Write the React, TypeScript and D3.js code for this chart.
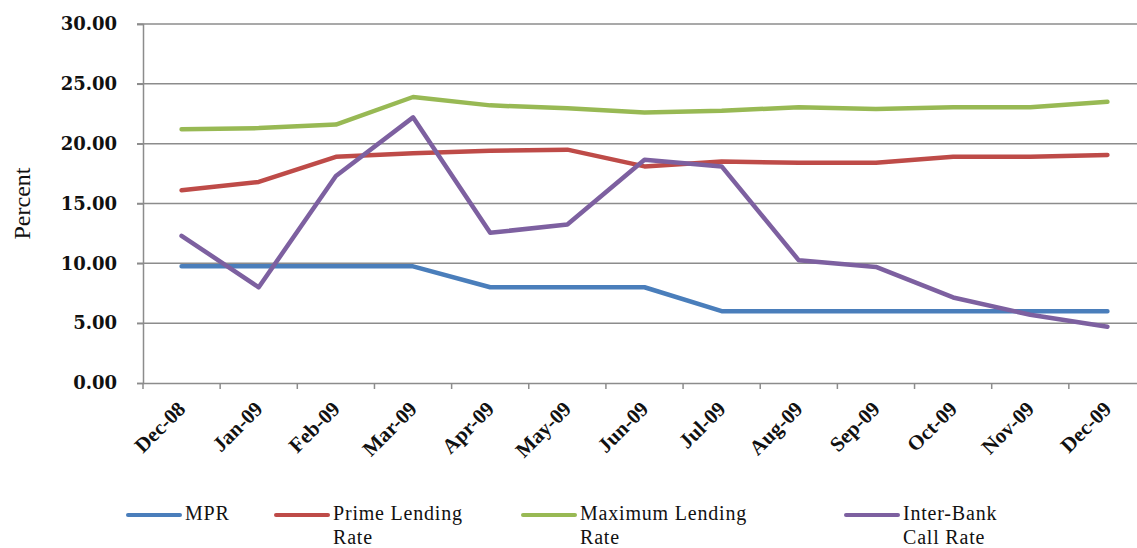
import React, { useEffect, useRef } from "react";
import * as d3 from "d3";

const months = [
  "Dec-08", "Jan-09", "Feb-09", "Mar-09", "Apr-09", "May-09", "Jun-09",
  "Jul-09", "Aug-09", "Sep-09", "Oct-09", "Nov-09", "Dec-09",
];

const mpr = [9.75, 9.75, 9.75, 9.75, 8.0, 8.0, 8.0, 6.0, 6.0, 6.0, 6.0, 6.0, 6.0];
const primeLending = [16.1, 16.8, 18.9, 19.2, 19.4, 19.5, 18.1, 18.5, 18.4, 18.4, 18.9, 18.9, 19.05];
const maxLending = [21.2, 21.3, 21.6, 23.9, 23.2, 22.95, 22.6, 22.75, 23.05, 22.9, 23.05, 23.05, 23.5];
const interBank = [12.3, 8.0, 17.3, 22.2, 12.55, 13.25, 18.65, 18.1, 10.25, 9.7, 7.15, 5.7, 4.7];

const yTicks = [0, 5, 10, 15, 20, 25, 30];

const seriesNames = [
  ["MPR"],
  ["Prime Lending", "Rate"],
  ["Maximum Lending", "Rate"],
  ["Inter-Bank", "Call Rate"],
];
const seriesColors = ["#4A7EBB", "#BE4B48", "#98B954", "#7D60A0"];

export default function App() {
  const svgRef = useRef<SVGSVGElement | null>(null);

  useEffect(() => {
    const svg = d3.select(svgRef.current);
    svg.selectAll("*").remove();

    const W = 1137;
    const H = 548;
    const left = 143;
    const right = 1146;
    const top = 24;
    const bottom = 383;
    const gridColor = "#8c8c8c";

    svg.append("rect").attr("width", W).attr("height", H).attr("fill", "white");

    const x = d3.scaleBand<string>().domain(months).range([left, right]).padding(0);
    const y = d3.scaleLinear().domain([0, 30]).range([bottom, top]);
    const cx = (m: string) => x(m)! + x.bandwidth() / 2;

    // horizontal grid lines
    svg
      .append("g")
      .selectAll("line")
      .data(yTicks.filter((t) => t > 0))
      .enter()
      .append("line")
      .attr("x1", left - 6)
      .attr("x2", right)
      .attr("y1", (d) => y(d))
      .attr("y2", (d) => y(d))
      .attr("stroke", gridColor)
      .attr("stroke-width", 1.5);

    // y axis
    const yAxis = svg
      .append("g")
      .attr("transform", `translate(${left},0)`)
      .call(
        d3
          .axisLeft(y)
          .tickValues(yTicks)
          .tickSize(6)
          .tickPadding(20)
          .tickFormat((d) => (d as number).toFixed(2))
      );
    yAxis.select(".domain").attr("stroke", gridColor).attr("stroke-width", 1.5);
    yAxis.selectAll(".tick line").attr("stroke", gridColor).attr("stroke-width", 1.5);
    yAxis
      .selectAll("text")
      .attr("fill", "#111")
      .style("font-family", "'DejaVu Serif', serif")
      .style("font-weight", "bold")
      .style("font-size", "18px");

    // x axis
    const xAxis = svg
      .append("g")
      .attr("transform", `translate(0,${bottom})`)
      .call(d3.axisBottom(x).tickSize(0).tickFormat(() => ""));
    xAxis.select(".domain").attr("stroke", gridColor).attr("stroke-width", 1.5);

    svg
      .append("g")
      .selectAll("line")
      .data(months)
      .enter()
      .append("line")
      .attr("x1", (d) => x(d)!)
      .attr("x2", (d) => x(d)!)
      .attr("y1", bottom)
      .attr("y2", bottom + 6)
      .attr("stroke", gridColor)
      .attr("stroke-width", 1.5);

    svg
      .append("g")
      .selectAll("text")
      .data(months)
      .enter()
      .append("text")
      .attr("transform", (d) => `translate(${cx(d)},${bottom + 22}) rotate(-45)`)
      .attr("text-anchor", "end")
      .attr("dy", "0.35em")
      .style("font-family", "'Liberation Serif', 'Times New Roman', serif")
      .style("font-weight", "bold")
      .style("font-size", "21px")
      .attr("fill", "#111")
      .text((d) => d);

    // y axis title
    svg
      .append("text")
      .attr("transform", `translate(30,${(top + bottom) / 2}) rotate(-90)`)
      .attr("text-anchor", "middle")
      .style("font-family", "'Liberation Serif', serif")
      .style("font-size", "24px")
      .attr("fill", "#111")
      .text("Percent");

    // lines
    const allSeries = [mpr, primeLending, maxLending, interBank];
    const line = d3
      .line<number>()
      .x((_, i) => cx(months[i]))
      .y((d) => y(d));

    allSeries.forEach((s, i) => {
      svg
        .append("path")
        .datum(s)
        .attr("d", line)
        .attr("fill", "none")
        .attr("stroke", seriesColors[i])
        .attr("stroke-width", 4.5)
        .attr("stroke-linejoin", "round")
        .attr("stroke-linecap", "round");
    });

    // legend
    const legendX = [128, 276, 523, 846];
    const legendY = 515;
    const legend = svg.append("g");
    seriesNames.forEach((name, i) => {
      const g = legend.append("g").attr("transform", `translate(${legendX[i]},${legendY})`);
      g.append("line")
        .attr("x1", 0)
        .attr("x2", 52)
        .attr("y1", 0)
        .attr("y2", 0)
        .attr("stroke", seriesColors[i])
        .attr("stroke-width", 4)
        .attr("stroke-linecap", "round");
      const t = g
        .append("text")
        .attr("x", 57)
        .attr("y", 5)
        .style("font-family", "'Liberation Serif', serif")
        .style("font-size", "20px")
        .style("letter-spacing", "0.8px")
        .attr("fill", "#111");
      name.forEach((ln, j) => {
        t.append("tspan").attr("x", 57).attr("dy", j === 0 ? 0 : 24).text(ln);
      });
    });
  }, []);

  return (
    <div style={{ position: "absolute", left: 0, top: 0 }}>
      <svg ref={svgRef} width={1137} height={548} style={{ display: "block" }} />
    </div>
  );
}
